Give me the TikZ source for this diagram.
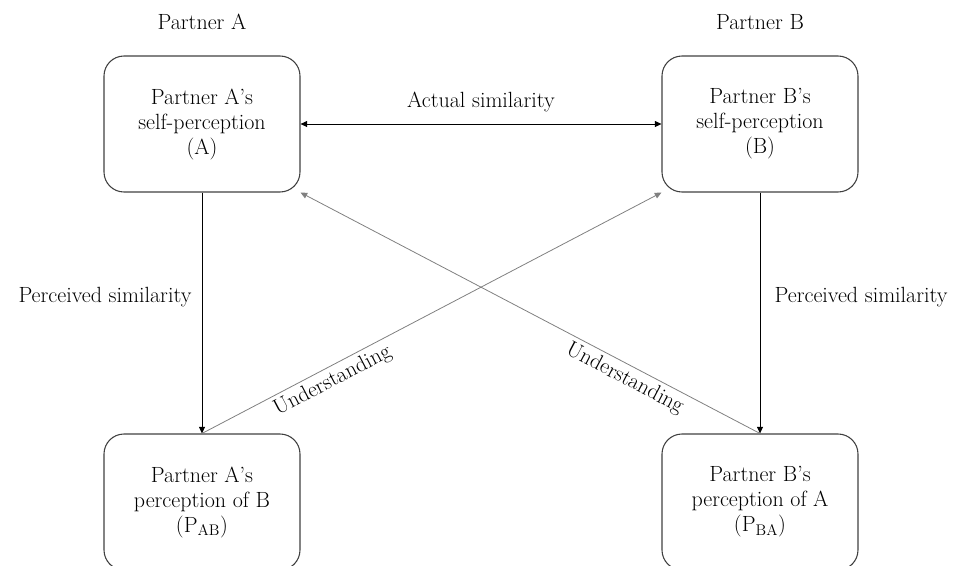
\documentclass[tikz,border=0pt]{standalone}
\usetikzlibrary{arrows.meta,positioning}

\definecolor{boxgray}{RGB}{64,64,64}
\definecolor{linegray}{RGB}{128,128,128}

\tikzset{
  pbox/.style={draw=boxgray, line width=0.8pt, rounded corners=15pt,
    minimum width=147pt, minimum height=102pt, inner sep=0pt,
    align=center, font=\fontsize{16.5}{18.75}\selectfont},
  lbl/.style={inner sep=1pt, font=\fontsize{16.5}{18.75}\selectfont},
  arr/.style={-{Triangle[length=5pt,width=4.5pt]}, line width=0.5pt},
  rarr/.style={{Triangle[length=5pt,width=4.5pt]}-, line width=0.5pt},
  darr/.style={{Triangle[length=5pt,width=4.5pt]}-{Triangle[length=5pt,width=4.5pt]}, line width=0.5pt},
  garr/.style={draw=linegray, line width=0.6pt},
}

\begin{document}
\begin{tikzpicture}[x=0.75pt,y=0.75pt,yscale=-1,xscale=1]
\useasboundingbox (0,0) rectangle (957,565);
\clip (0,0) rectangle (957,565);

% Boxes
\node[pbox] (A) at (202,124) {Partner A's\\self-perception\\(A)};
\node[pbox] (B) at (760,124) {Partner B's\\self-perception\\(B)};
\node[pbox] (PAB) at (202,502) {Partner A's\\perception of B\\(P\textsubscript{AB})};
\node[pbox] (PBA) at (760,502) {Partner B's\\perception of A\\(P\textsubscript{BA})};

% Headings
\node[lbl, above=18pt of A] (hA) {Partner A};
\node[lbl, above=18pt of B] (hB) {Partner B};

% Actual similarity
\draw[darr] (A) -- node[lbl, above=8pt] (actual) {Actual similarity} (B);

% Perceived similarity
\draw[arr] (A) -- (PAB);
\draw[arr] (B) -- (PBA);
\node[lbl, anchor=east] (psA) at (193,297) {Perceived similarity};
\node[lbl, anchor=west] (psB) at (773,297) {Perceived similarity};

% Understanding
\draw[arr, garr] (PAB.north) -- node[lbl, pos=0.27, anchor=north, rotate=27.7, yshift=-2pt] (unA) {Understanding} (B.south west);
\draw[rarr, garr] (A.south east) -- node[lbl, pos=0.72, anchor=north, rotate=-27.7, yshift=-2pt] (unB) {Understanding} (PBA.north);

\end{tikzpicture}
\end{document}
